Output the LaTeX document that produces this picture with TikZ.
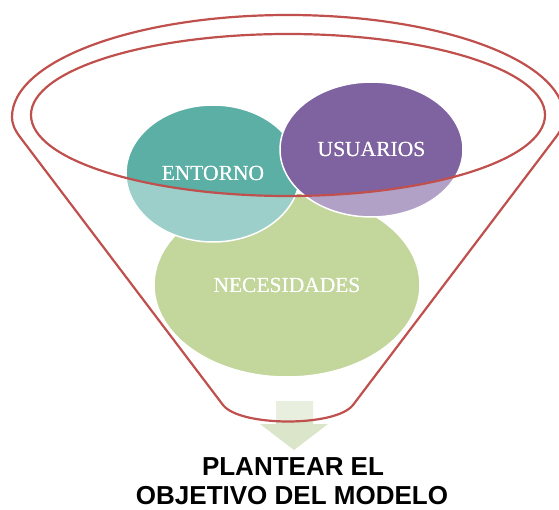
\documentclass[tikz,border=0pt]{standalone}
\usepackage{fontspec}
\setmainfont{Liberation Serif}
\newfontfamily\headsans{Liberation Sans}
\usetikzlibrary{shapes.geometric}
\definecolor{funnelred}{HTML}{C0504D}
\definecolor{tealc}{HTML}{5BAFA5}
\definecolor{purplec}{HTML}{7F63A0}
\definecolor{greenc}{HTML}{9BBB59}
\definecolor{arrowc}{HTML}{DAE5C9}
\tikzset{
  blob/.style={ellipse, draw=white, line width=1.5pt, inner sep=0pt,
    text=white, font=\fontsize{21.5}{24}\selectfont},
  rim/.style={draw=funnelred, line width=2.2pt, line join=round},
  goal/.style={font=\headsans\bfseries\fontsize{26}{30}\selectfont, anchor=base, inner sep=0pt}
}
\def\funnelpath{(223,405) -- (20,137) .. controls (14,129) and (12,123) .. (12,117)
  arc[start angle=180, end angle=360, x radius=276, y radius=102]
  .. controls (564,123) and (562,129) .. (556,137) -- (353,405)
  .. controls (336,427) and (240,427) .. (223,405) -- cycle}
\begin{document}
\begin{tikzpicture}[x=1pt,y=-1pt]
\fill[white] (0,0) rectangle (559,510);
\useasboundingbox (0,0) rectangle (559,510);
% circles
\node[blob, fill=greenc, minimum width=266pt, minimum height=184pt] (nec) at (287,285) {NECESIDADES};
\node[blob, fill=tealc, minimum width=174pt, minimum height=137pt] (ent) at (213,173.5) {ENTORNO};
\node[blob, fill=purplec, minimum width=183pt, minimum height=135pt] (usu) at (371.5,149.5) {USUARIOS};
% arrow
\fill[arrowc] (276,401) -- (313,401) -- (313,424) -- (328,424) -- (294,450) -- (260,424) -- (276,424) -- cycle;
% funnel wash
\fill[white, fill opacity=0.4, even odd rule] \funnelpath (288,115) ellipse [x radius=257, y radius=81];
% funnel outline
\draw[rim] \funnelpath;
\draw[rim] (288,115) ellipse [x radius=257, y radius=81];
% texts on top
\node[text=white, font=\fontsize{21.5}{24}\selectfont] (entt) at (ent.center) {ENTORNO};
\node[text=white, font=\fontsize{21.5}{24}\selectfont] (usut) at (usu.center) {USUARIOS};
\node[text=white, font=\fontsize{21.5}{24}\selectfont] (nect) at (nec.center) {NECESIDADES};
\node[goal] (g1) at (293,475) {PLANTEAR EL};
\node[goal] (g2) at (292,504) {OBJETIVO DEL MODELO};
\end{tikzpicture}
\end{document}
